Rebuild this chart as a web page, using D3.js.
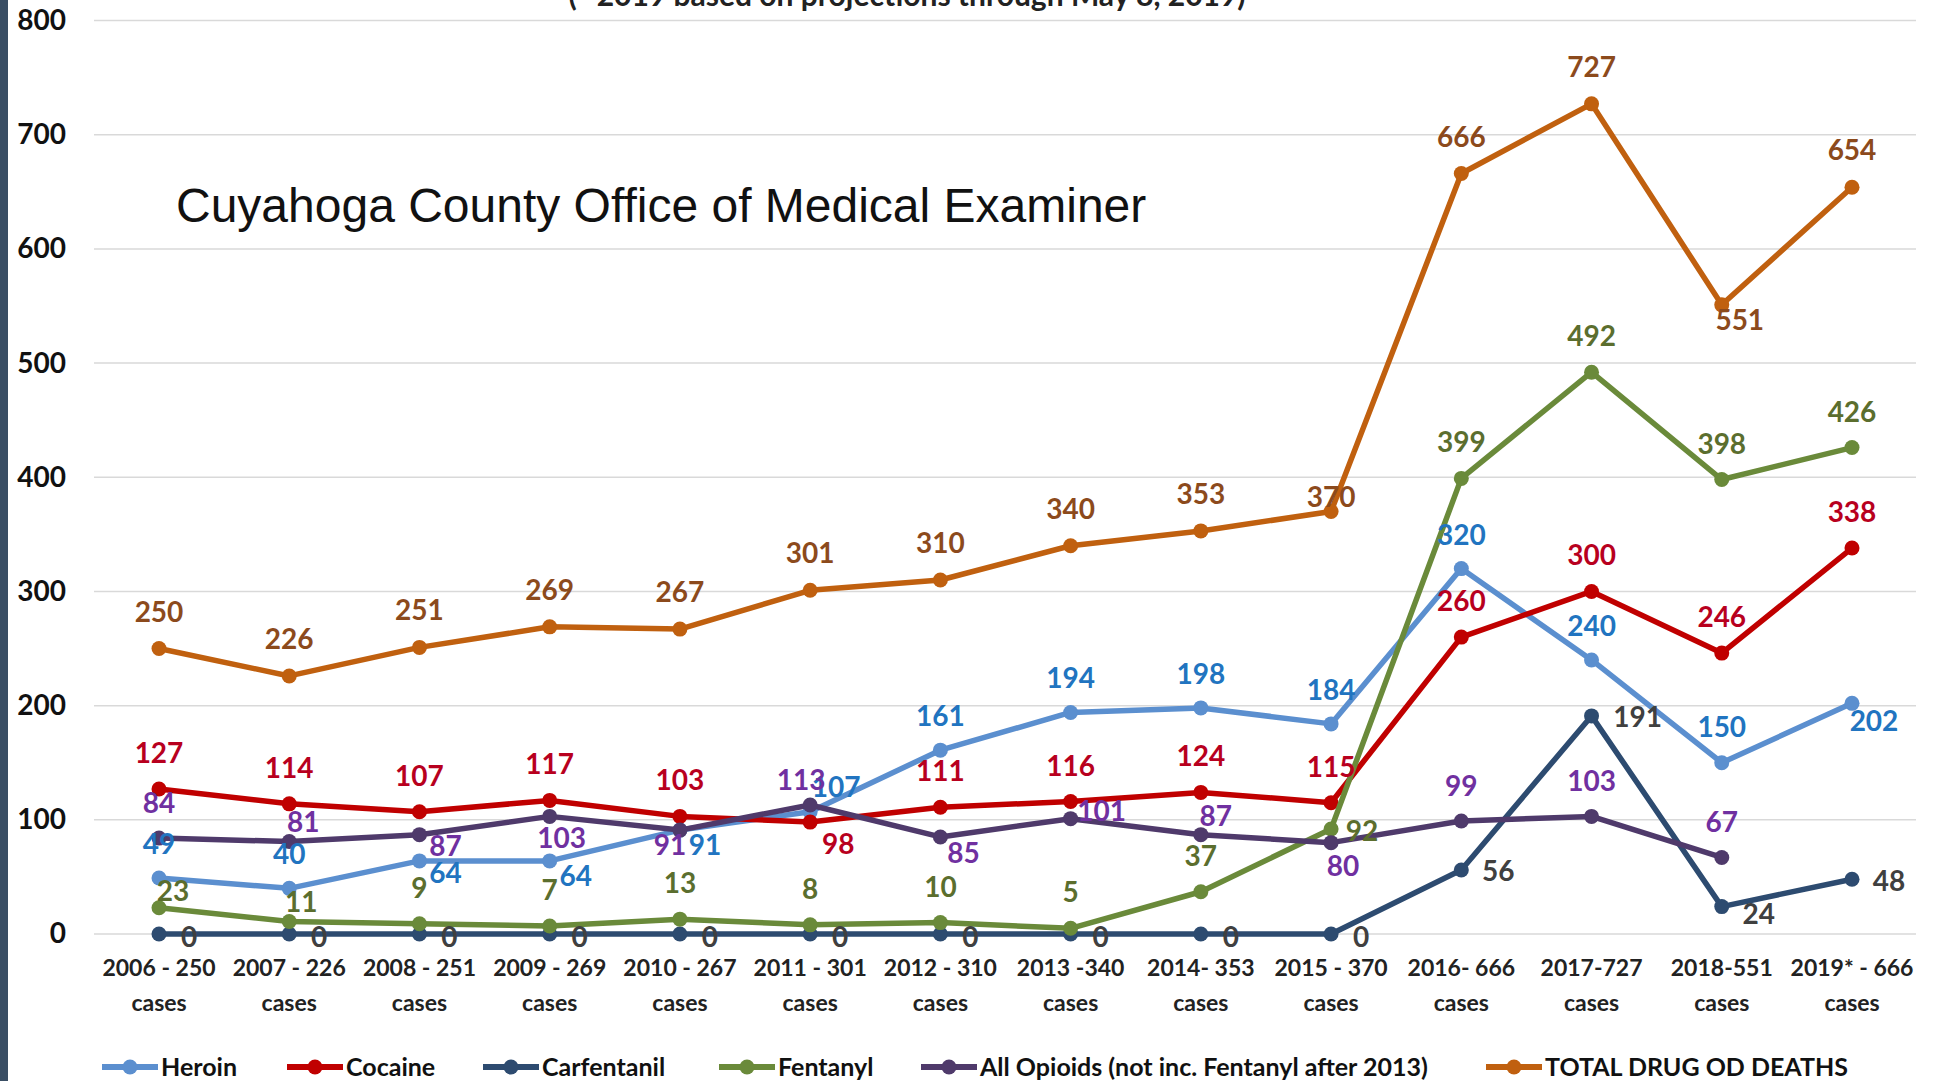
<!DOCTYPE html>
<html>
<head>
<meta charset="utf-8">
<script src="https://cdn.jsdelivr.net/npm/d3@7"></script>
<style>
  body { margin: 0; background: #fff; }
  svg { display: block; font-family: Lato, "Open Sans", sans-serif; }
</style>
</head>
<body>
<div id="chart-area"></div>
<script>
// categories (x axis, two lines each)
var years = ["2006 - 250", "2007 - 226", "2008 - 251", "2009 - 269", "2010 - 267", "2011 - 301", "2012 - 310",
  "2013 -340", "2014- 353", "2015 - 370", "2016- 666", "2017-727", "2018-551", "2019* - 666"];
var yTicks = [0, 100, 200, 300, 400, 500, 600, 700, 800];

// series values
var heroin = [49, 40, 64, 64, 91, 107, 161, 194, 198, 184, 320, 240, 150, 202];
var cocaine = [127, 114, 107, 117, 103, 98, 111, 116, 124, 115, 260, 300, 246, 338];
var carfentanil = [0, 0, 0, 0, 0, 0, 0, 0, 0, 0, 56, 191, 24, 48];
var fentanyl = [23, 11, 9, 7, 13, 8, 10, 5, 37, 92, 399, 492, 398, 426];
var opioids = [84, 81, 87, 103, 91, 113, 85, 101, 87, 80, 99, 103, 67];
var total = [250, 226, 251, 269, 267, 301, 310, 340, 353, 370, 666, 727, 551, 654];

var series = [
  { name: "Heroin", values: heroin, line: "#5b8fcf", text: "#2174c0",
    def: [0, -35], off: { 2: [26, 11], 3: [26, 14], 4: [25, 14], 5: [26, -26], 12: [0, -37], 13: [22, 17] } },
  { name: "Cocaine", values: cocaine, line: "#c00000", text: "#b8001e",
    def: [0, -37], off: { 5: [28, 21] } },
  { name: "Carfentanil", values: carfentanil, line: "#2d4b70", text: "#404040",
    def: [30, 2], off: { 10: [37, 0], 11: [46, 0], 12: [37, 6], 13: [37, 1] } },
  { name: "Fentanyl", values: fentanyl, line: "#6a8a3a", text: "#5b6e2e",
    def: [0, -37], off: { 0: [14, -18], 1: [12, -20], 9: [31, 1] } },
  { name: "All Opioids (not inc. Fentanyl after 2013)", values: opioids, line: "#4f3a6b", text: "#7030a0",
    def: [0, -36], off: { 1: [14, -21], 2: [26, 10], 3: [12, 21], 4: [-10, 14], 5: [-9, -26], 6: [23, 15],
      7: [31, -9], 8: [15, -20], 9: [12, 22] } },
  { name: "TOTAL DRUG OD DEATHS", values: total, line: "#c0600f", text: "#8c4a1c",
    def: [0, -38], off: { 9: [0, -16], 12: [18, 14] } }
];

var width = 1934, height = 1081;

var svg = d3.select("#chart-area")
  .append("svg")
  .attr("width", width)
  .attr("height", height);

// dark strip on the left edge
svg.append("rect")
  .attr("x", 0)
  .attr("y", 0)
  .attr("width", 8)
  .attr("height", height)
  .attr("fill", "#3a4e64");

var x = d3.scalePoint()
  .domain(years)
  .range([159, 1852]);

var y = d3.scaleLinear()
  .domain([0, 800])
  .range([934, 20.5]);

// gridlines
svg.append("g")
  .selectAll("line")
  .data(yTicks)
  .enter()
  .append("line")
  .attr("x1", 94)
  .attr("x2", 1916)
  .attr("y1", function(d) { return y(d); })
  .attr("y2", function(d) { return y(d); })
  .attr("stroke", "#d9d9d9")
  .attr("stroke-width", 1.5);

// y axis labels
var yAxis = svg.append("g")
  .attr("transform", "translate(66,0)")
  .call(d3.axisLeft(y).tickValues(yTicks).tickSize(0).tickPadding(0));
yAxis.select(".domain").remove();
yAxis.selectAll("text")
  .attr("font-family", "Lato, sans-serif")
  .attr("font-size", "28px")
  .attr("font-weight", "bold")
  .attr("fill", "#111");

// x axis labels (two lines)
var xLab = svg.append("g")
  .selectAll("g")
  .data(years)
  .enter()
  .append("g")
  .attr("transform", function(d) { return "translate(" + x(d) + ",0)"; });
xLab.append("text")
  .attr("y", 976)
  .attr("text-anchor", "middle")
  .attr("font-size", "23px")
  .attr("font-weight", "bold")
  .attr("fill", "#222")
  .text(function(d) { return d; });
xLab.append("text")
  .attr("y", 1011)
  .attr("text-anchor", "middle")
  .attr("font-size", "23px")
  .attr("font-weight", "bold")
  .attr("fill", "#222")
  .text("cases");

// subtitle (cut by top edge)
svg.append("text")
  .attr("x", 907)
  .attr("y", 6)
  .attr("text-anchor", "middle")
  .attr("font-size", "30px")
  .attr("font-weight", "bold")
  .attr("fill", "#222")
  .text("(* 2019 based on projections through May 8, 2019)");

svg.append("text")
  .attr("x", 176)
  .attr("y", 222)
  .attr("font-family", "'Liberation Sans', Arial, sans-serif")
  .attr("font-size", "48px")
  .attr("fill", "#111")
  .text("Cuyahoga County Office of Medical Examiner");

var line = d3.line()
  .x(function(d, i) { return x(years[i]); })
  .y(function(d) { return y(d); });

series.forEach(function(s) {
  var g = svg.append("g");
  g.append("path")
    .datum(s.values)
    .attr("d", line)
    .attr("fill", "none")
    .attr("stroke", s.line)
    .attr("stroke-width", 5.5)
    .attr("stroke-linejoin", "round");
  g.selectAll("circle")
    .data(s.values)
    .enter()
    .append("circle")
    .attr("cx", function(d, i) { return x(years[i]); })
    .attr("cy", function(d) { return y(d); })
    .attr("r", 7.5)
    .attr("fill", s.line);
});

series.forEach(function(s) {
  svg.append("g")
    .selectAll("text")
    .data(s.values)
    .enter()
    .append("text")
    .attr("x", function(d, i) { var o = s.off[i] || s.def; return x(years[i]) + o[0]; })
    .attr("y", function(d, i) { var o = s.off[i] || s.def; return y(d) + o[1]; })
    .attr("text-anchor", "middle")
    .attr("dominant-baseline", "central")
    .attr("font-size", "28px")
    .attr("font-weight", "bold")
    .attr("fill", s.text)
    .text(function(d) { return d; });
});

// legend
var legendX = [102, 287, 483, 719, 921, 1486];
var legend = svg.append("g")
  .selectAll("g")
  .data(series)
  .enter()
  .append("g")
  .attr("transform", function(d, i) { return "translate(" + legendX[i] + ",1067)"; });
legend.append("line")
  .attr("x1", 0)
  .attr("x2", 56)
  .attr("stroke", function(d) { return d.line; })
  .attr("stroke-width", 6);
legend.append("circle")
  .attr("cx", 28)
  .attr("r", 7.5)
  .attr("fill", function(d) { return d.line; });
legend.append("text")
  .attr("x", 59)
  .attr("y", 9)
  .attr("font-size", "25px")
  .attr("font-weight", "bold")
  .attr("fill", "#111")
  .text(function(d) { return d.name; });
</script>
</body>
</html>
